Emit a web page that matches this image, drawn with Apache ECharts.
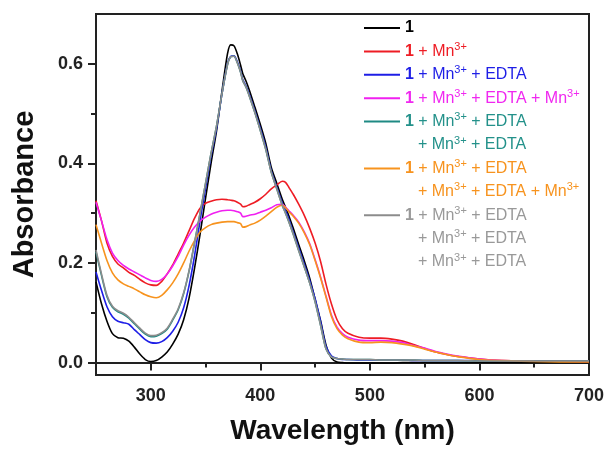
<!DOCTYPE html>
<html>
<head>
<meta charset="utf-8">
<script src="https://cdn.jsdelivr.net/npm/echarts@6/dist/echarts.min.js"></script>
<style>html,body{margin:0;padding:0;background:#fff}#c{width:608px;height:450px}</style>
</head>
<body>
<div id="c"></div>
<script>
// Wavelength grid (nm)
const wavelengths = [250,255,260,265,270,275,280,285,290,295,300,305,310,315,320,325,330,335,340,345,350,355,360,365,370,373,376,379,382,384,387,390,395,400,405,410,415,420,423,426,430,435,440,445,450,455,460,465,470,475,480,490,500,510,520,530,540,550,560,570,580,600,620,650,700];

const s1 = [0.162,0.118,0.083,0.058,0.050,0.049,0.043,0.031,0.017,0.006,0.002,0.004,0.011,0.021,0.037,0.057,0.086,0.130,0.190,0.258,0.330,0.400,0.465,0.545,0.620,0.638,0.636,0.620,0.597,0.580,0.565,0.547,0.513,0.478,0.440,0.392,0.360,0.328,0.312,0.295,0.270,0.237,0.205,0.170,0.127,0.084,0.035,0.009,0.001,0.000,-0.001,-0.001,-0.001,-0.001,-0.001,0.000,0.000,0.000,0.000,0.000,0.000,0.000,0.000,0.000,0.000];
const s2 = [0.325,0.285,0.240,0.213,0.198,0.190,0.181,0.175,0.167,0.160,0.156,0.155,0.163,0.178,0.196,0.218,0.240,0.265,0.290,0.310,0.320,0.324,0.327,0.328,0.327,0.326,0.325,0.322,0.318,0.313,0.314,0.317,0.322,0.329,0.338,0.349,0.357,0.364,0.362,0.352,0.338,0.318,0.296,0.270,0.240,0.203,0.157,0.117,0.086,0.068,0.059,0.051,0.049,0.049,0.047,0.043,0.036,0.028,0.021,0.016,0.012,0.007,0.004,0.003,0.002];
const s3 = [0.182,0.145,0.112,0.092,0.083,0.080,0.077,0.066,0.056,0.046,0.040,0.039,0.042,0.050,0.063,0.081,0.110,0.155,0.215,0.285,0.350,0.415,0.470,0.540,0.600,0.615,0.616,0.604,0.585,0.568,0.555,0.538,0.505,0.470,0.432,0.385,0.352,0.320,0.305,0.288,0.262,0.230,0.198,0.165,0.128,0.082,0.032,0.013,0.008,0.006,0.006,0.005,0.005,0.005,0.005,0.005,0.004,0.004,0.004,0.004,0.004,0.004,0.003,0.003,0.003];
const s4 = [0.322,0.285,0.247,0.220,0.205,0.195,0.188,0.182,0.176,0.170,0.165,0.163,0.167,0.178,0.194,0.213,0.236,0.256,0.272,0.284,0.292,0.298,0.302,0.305,0.306,0.306,0.305,0.303,0.300,0.293,0.294,0.296,0.298,0.302,0.306,0.311,0.317,0.318,0.312,0.305,0.296,0.282,0.263,0.239,0.207,0.172,0.133,0.095,0.071,0.058,0.051,0.045,0.044,0.044,0.043,0.040,0.034,0.029,0.022,0.017,0.013,0.007,0.004,0.003,0.002];
const s5 = [0.222,0.175,0.132,0.111,0.102,0.097,0.089,0.078,0.067,0.057,0.052,0.053,0.058,0.067,0.085,0.106,0.138,0.184,0.241,0.300,0.360,0.420,0.475,0.540,0.598,0.614,0.615,0.602,0.583,0.566,0.553,0.535,0.502,0.466,0.428,0.382,0.349,0.316,0.300,0.283,0.258,0.225,0.193,0.160,0.122,0.075,0.027,0.011,0.008,0.007,0.006,0.006,0.006,0.005,0.005,0.005,0.005,0.004,0.004,0.004,0.004,0.003,0.003,0.003,0.003];
const s6 = [0.277,0.240,0.205,0.180,0.166,0.158,0.153,0.148,0.142,0.136,0.132,0.130,0.135,0.146,0.160,0.178,0.200,0.224,0.245,0.262,0.271,0.277,0.280,0.282,0.283,0.283,0.283,0.281,0.279,0.272,0.273,0.276,0.280,0.286,0.294,0.303,0.312,0.316,0.311,0.303,0.294,0.280,0.261,0.237,0.205,0.170,0.131,0.092,0.068,0.055,0.048,0.041,0.040,0.041,0.040,0.037,0.033,0.027,0.021,0.016,0.012,0.006,0.004,0.002,0.001];
const s7 = [0.226,0.178,0.135,0.113,0.104,0.099,0.091,0.080,0.069,0.059,0.054,0.055,0.060,0.069,0.087,0.108,0.140,0.185,0.242,0.300,0.360,0.420,0.475,0.540,0.598,0.614,0.615,0.602,0.583,0.566,0.553,0.535,0.502,0.466,0.428,0.382,0.349,0.316,0.300,0.283,0.258,0.225,0.193,0.160,0.122,0.075,0.027,0.011,0.008,0.007,0.006,0.006,0.006,0.005,0.005,0.005,0.005,0.004,0.004,0.004,0.004,0.003,0.003,0.003,0.003];

const xMajorTicks = [300,400,500,600,700];
const yMajorTicks = [0,0.2,0.4,0.6];
const yMinorTicks = [0,0.1,0.2,0.3,0.4,0.5,0.6];

const FONT = 'Liberation Sans, Arial, sans-serif';
const colors = {k:'#000000', r:'#ee1c24', b:'#1e1ee6', m:'#f020f0', t:'#1f8a84', o:'#f7931e', g:'#8c8c8c'};
const textColors = {k:'#000000', r:'#ee1c24', b:'#1e1ee6', m:'#f028f0', t:'#23918a', o:'#f7931e', g:'#999999'};

// legend rows: [name, colorKey, isContinuation, tokens]
const legendRows = [
  ['1', 'k', false, [['B','1']]],
  ['1 + Mn3+', 'r', false, [['B','1'],['N',' + Mn'],['S','3+']]],
  ['1 + Mn3+ + EDTA', 'b', false, [['B','1'],['N',' + Mn'],['S','3+'],['N',' + EDTA']]],
  ['1 + Mn3+ + EDTA + Mn3+', 'm', false, [['B','1'],['N',' + Mn'],['S','3+'],['N',' + EDTA + Mn'],['S','3+']]],
  ['1 + Mn3+ + EDTA + Mn3+ + EDTA', 't', false, [['B','1'],['N',' + Mn'],['S','3+'],['N',' + EDTA']]],
  ['c5', 't', true, [['I','+ Mn'],['S','3+'],['N',' + EDTA']]],
  ['1 + Mn3+ + EDTA + Mn3+ + EDTA + Mn3+', 'o', false, [['B','1'],['N',' + Mn'],['S','3+'],['N',' + EDTA']]],
  ['c6', 'o', true, [['I','+ Mn'],['S','3+'],['N',' + EDTA + Mn'],['S','3+']]],
  ['1 + Mn3+ + EDTA + Mn3+ + EDTA + Mn3+ + EDTA', 'g', false, [['B','1'],['N',' + Mn'],['S','3+'],['N',' + EDTA']]],
  ['c7a', 'g', true, [['I','+ Mn'],['S','3+'],['N',' + EDTA']]],
  ['c7b', 'g', true, [['I','+ Mn'],['S','3+'],['N',' + EDTA']]]
];

const seriesDefs = [
  [legendRows[0][0], 'k', s1],
  [legendRows[1][0], 'r', s2],
  [legendRows[2][0], 'b', s3],
  [legendRows[3][0], 'm', s4],
  [legendRows[4][0], 't', s5],
  [legendRows[6][0], 'o', s6],
  [legendRows[8][0], 'g', s7]
];

const rich = {};
Object.keys(textColors).forEach(k => {
  const c = textColors[k];
  rich['B' + k] = {fontFamily: FONT, fontSize: 16, fontWeight: 'bold', lineHeight: 20, color: c};
  rich['N' + k] = {fontFamily: FONT, fontSize: 16, lineHeight: 20, color: c};
  rich['I' + k] = {fontFamily: FONT, fontSize: 16, lineHeight: 20, color: c, padding: [0, 0, 0, 13]};
  rich['S' + k] = {fontFamily: FONT, fontSize: 11, lineHeight: 9, verticalAlign: 'top', color: c};
});
const legendText = {};
legendRows.forEach(r => {
  legendText[r[0]] = r[3].map(t => '{' + t[0] + r[1] + '|' + t[1] + '}').join('');
});

const series = seriesDefs.map(d => ({
  name: d[0], type: 'line', symbol: 'none', showSymbol: false, smooth: 0.25,
  xAxisIndex: 0, yAxisIndex: 0,
  lineStyle: {color: colors[d[1]], width: 1.6},
  itemStyle: {color: colors[d[1]]},
  data: wavelengths.map((w, i) => [w, d[2][i]])
}));
legendRows.filter(r => r[2]).forEach(r => {
  series.push({name: r[0], type: 'line', symbol: 'none', data: [], lineStyle: {opacity: 0}, itemStyle: {opacity: 0}});
});

const legendData = legendRows.map(r => r[2]
  ? {name: r[0], icon: 'rect', itemStyle: {opacity: 0}, lineStyle: {opacity: 0}}
  : {name: r[0], itemStyle: {opacity: 0}});

const axisColor = '#222';
const chart = echarts.init(document.getElementById('c'), null, {renderer: 'canvas'});
chart.setOption({
  animation: false,
  backgroundColor: '#fff',
  grid: {left: 96, right: 19, top: 14, bottom: 75, show: true, borderColor: axisColor, borderWidth: 2, backgroundColor: 'transparent'},
  legend: {
    orient: 'vertical', left: 363, top: 18, padding: 0, itemGap: 3.4,
    itemWidth: 36, itemHeight: 14, selectedMode: false,
    itemStyle: {opacity: 0},
    data: legendData,
    formatter: name => legendText[name],
    textStyle: {fontFamily: FONT, fontSize: 16, lineHeight: 20, rich: rich}
  },
  xAxis: [
    {
      type: 'value', min: 250, max: 700, interval: 50, position: 'bottom',
      axisLine: {lineStyle: {color: axisColor, width: 2}},
      axisTick: {length: 5, lineStyle: {color: axisColor, width: 2}},
      axisLabel: {customValues: xMajorTicks, fontFamily: FONT, fontSize: 18, fontWeight: 'bold', color: axisColor, margin: 12},
      splitLine: {show: false},
      name: 'Wavelength (nm)', nameLocation: 'middle', nameGap: 42,
      nameTextStyle: {fontFamily: FONT, fontSize: 28, fontWeight: 'bold', color: '#111'}
    },
    {
      type: 'value', min: 250, max: 700, position: 'bottom',
      axisLine: {show: false},
      axisTick: {customValues: xMajorTicks, length: 8, lineStyle: {color: axisColor, width: 2}},
      axisLabel: {show: false}, splitLine: {show: false}
    }
  ],
  yAxis: [
    {
      type: 'value', min: -0.025, max: 0.7, position: 'left',
      axisLine: {show: true, lineStyle: {color: axisColor, width: 2}},
      axisTick: {show: true, customValues: yMinorTicks, length: 5, lineStyle: {color: axisColor, width: 2}},
      axisLabel: {customValues: yMajorTicks, formatter: v => v.toFixed(1), fontFamily: FONT, fontSize: 18, fontWeight: 'bold', color: axisColor, margin: 13},
      splitLine: {show: false},
      name: 'Absorbance', nameLocation: 'middle', nameGap: 57,
      nameTextStyle: {fontFamily: FONT, fontSize: 29, fontWeight: 'bold', color: '#111'}
    },
    {
      type: 'value', min: -0.025, max: 0.7, position: 'left',
      axisLine: {show: false},
      axisTick: {show: true, customValues: yMajorTicks, length: 8, lineStyle: {color: axisColor, width: 2}},
      axisLabel: {show: false}, splitLine: {show: false}
    }
  ],
  series: series
});
</script>
</body>
</html>
